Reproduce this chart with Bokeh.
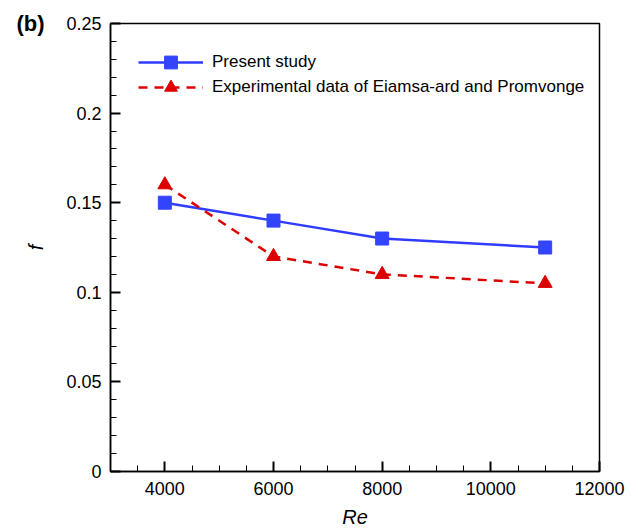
from bokeh.plotting import figure
from bokeh.models import Range1d, SingleIntervalTicker, FixedTicker, LinearAxis, Legend, LegendItem
from bokeh.embed import file_html
from bokeh.resources import INLINE

re_vals = [4000, 6000, 8000, 11000]
present = [0.15, 0.14, 0.13, 0.125]
experimental = [0.16, 0.12, 0.11, 0.105]
y_ticks = [0, 0.05, 0.1, 0.15, 0.2, 0.25]
y_tick_labels = ["0", "0.05", "0.1", "0.15", "0.2", "0.25"]
panel_tag = "(b)"
series_names = ["Present study", "Experimental data of Eiamsa-ard and Promvonge"]

FONT = "Liberation Sans"
X0, X1, Y0, Y1 = 3000, 12000, 0, 0.25

p = figure(width=638, height=530, output_backend="svg", toolbar_location=None,
           x_range=Range1d(X0, X1), y_range=Range1d(Y0, Y1),
           min_border_left=110, min_border_right=39, min_border_top=23, min_border_bottom=58)
p.grid.visible = False
p.outline_line_color = "black"
p.outline_line_width = 1.5
p.background_fill_color = None
p.border_fill_color = None

p.xaxis.ticker = SingleIntervalTicker(interval=2000, num_minor_ticks=4)
p.yaxis.ticker = SingleIntervalTicker(interval=0.05, num_minor_ticks=5)
p.yaxis.major_label_overrides = {t: l for t, l in zip(y_ticks, y_tick_labels)}

for ax in (p.xaxis[0], p.yaxis[0]):
    ax.axis_line_width = 1.5
    ax.major_tick_in = 10
    ax.major_tick_out = 0
    ax.major_tick_line_width = 2
    ax.minor_tick_in = 6
    ax.minor_tick_out = 0
    ax.major_label_text_font = FONT
    ax.major_label_text_font_size = "18px"
    ax.major_label_text_color = "black"
    ax.axis_label_text_font = FONT
    ax.axis_label_text_font_size = "20px"
    ax.axis_label_text_font_style = "italic"
    ax.axis_label_text_color = "black"
p.xaxis.axis_label = "Re"
p.yaxis.axis_label = "f"
p.xaxis.major_label_standoff = 10
p.yaxis.major_label_standoff = 9
p.xaxis.axis_label_standoff = 8
p.yaxis.axis_label_standoff = 16

# outer left axis carrying only the panel tag "(b)" at the top of the frame
tag_axis = LinearAxis(ticker=FixedTicker(ticks=[Y1]), major_label_overrides={Y1: panel_tag},
                      axis_line_color=None, major_tick_line_color=None, minor_tick_line_color=None,
                      major_label_text_font=FONT, major_label_text_font_size="22px",
                      major_label_text_font_style="bold", major_label_text_color="black",
                      major_label_standoff=-28)
p.add_layout(tag_axis, "left")

l1 = p.line(re_vals, present, line_color="#2f3cff", line_width=2.5)
m1 = p.scatter(re_vals, present, marker="square", size=13, fill_color="#3344ff", line_color="#3344ff")
l2 = p.line(re_vals, experimental, line_color="#dd0000", line_width=2.5, line_dash="9 7")
m2 = p.scatter(re_vals, experimental, marker="triangle", size=14, fill_color="#dd0000", line_color="#dd0000")

common = dict(glyph_width=65, glyph_height=32, label_height=20, padding=0, margin=0,
              label_standoff=9, background_fill_alpha=0, border_line_alpha=0,
              label_text_font=FONT, label_text_font_size="17px", label_text_color="black")
leg1 = Legend(items=[LegendItem(label=series_names[0], renderers=[l1, m1])], location=(28, 393), **common)
leg2 = Legend(items=[LegendItem(label=series_names[1], renderers=[l2, m2])], location=(28, 368), **common)
p.add_layout(leg1)
p.add_layout(leg2)

open("out.html", "w").write(file_html(p, INLINE))
